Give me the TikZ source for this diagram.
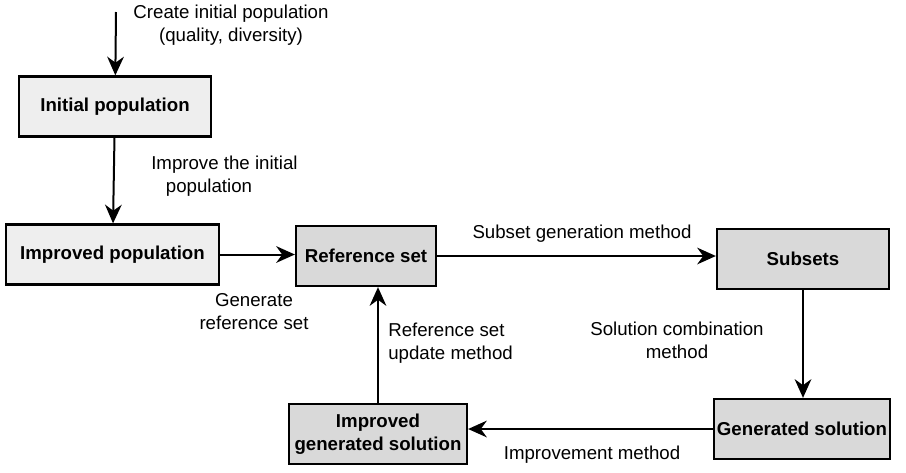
\documentclass[tikz,border=0pt]{standalone}
\usepackage{fontspec}
\setmainfont{Liberation Sans}
\usepackage{xcolor}
\usetikzlibrary{arrows.meta, positioning}
\definecolor{boxLight}{RGB}{238,238,238}
\definecolor{boxDark}{RGB}{217,217,217}

\begin{document}
\begin{tikzpicture}[x=0.75pt, y=-0.75pt,
lightblock/.style={rectangle, draw=black, line width=1.7pt,
fill=boxLight, minimum height=45pt, inner sep=2pt,
align=center, font=\fontsize{14}{17.25}\selectfont\bfseries},
darkblock/.style={lightblock, fill=boxDark},
note/.style={inner sep=0pt, font=\fontsize{14}{17.25}\selectfont},
arrow/.style={-{Stealth[length=14pt, width=12.5pt, inset=4.5pt]}, line width=1.5pt}]

\useasboundingbox (0,0) rectangle (906,472);

\node[lightblock, minimum width=144pt] (initpop) at (115,106.5)
    {Initial population};
\node[lightblock, minimum width=160pt] (imppop) at (112.5,254.5)
    {Improved population};
\node[darkblock, minimum width=105pt] (refset) at (366,256)
    {Reference set};
\node[darkblock, minimum width=129pt] (subsets) at (803,259)
    {Subsets};
\node[darkblock, minimum width=131pt] (gensol) at (802,429)
    {Generated solution};
\node[darkblock, minimum width=133.5pt] (impgen) at (378,434)
    {Improved\\generated solution};

\coordinate (start) at (116,12);

\node[note, align=center] (lcreate) at (231,25)
    {Create initial population\\(quality, diversity)};
\node[note, align=left, anchor=west] (limprove) at (151,176)
    {Improve the initial\\\hspace{11pt}population};
\node[note, align=center] (lgenerate) at (254,312)
    {Generate\\reference set};
\node[note] (lsubset) at (582,234)
    {Subset generation method};
\node[note, align=center] (lcombine) at (677,340)
    {Solution combination\\method};
\node[note, align=left, anchor=west] (lupdate) at (388,343)
    {Reference set\\update method};
\node[note] (limpmeth) at (592,455)
    {Improvement method};

\draw[arrow] (start)   -- (initpop);
\draw[arrow] (initpop) -- (imppop);
\draw[arrow] (imppop)  -- (imppop.east -| refset.west);
\draw[arrow] (refset)  -- (refset.east -| subsets.west);
\draw[arrow] (subsets) -- (subsets.south |- gensol.north);
\draw[arrow] (gensol)  -- (gensol.west -| impgen.east);
\draw[arrow] (impgen.north) -- (impgen.north |- refset.south);
\end{tikzpicture}
\end{document}
